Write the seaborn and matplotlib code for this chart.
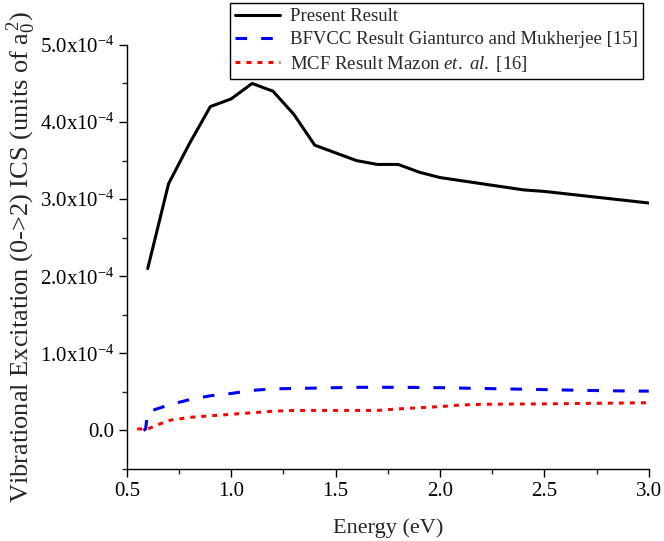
import matplotlib
matplotlib.use("Agg")
import matplotlib.pyplot as plt
import seaborn as sns
import pandas as pd
from matplotlib.ticker import FuncFormatter, MultipleLocator

# Present result
energy_present = [0.6, 0.7, 0.8, 0.9, 1.0, 1.1, 1.2, 1.3, 1.4, 1.5, 1.6, 1.7, 1.8,
                  1.9, 2.0, 2.2, 2.4, 2.5, 2.7, 3.0]
ics_present = [2.10, 3.20, 3.72, 4.20, 4.30, 4.50, 4.40, 4.10, 3.70, 3.60, 3.50, 3.45, 3.45,
               3.35, 3.28, 3.20, 3.12, 3.10, 3.04, 2.95]

# BFVCC (Gianturco and Mukherjee)
energy_bfvcc = [0.58, 0.59, 0.6, 0.7, 0.8, 0.9, 1.0, 1.1, 1.2, 1.4, 1.6, 1.8, 2.0,
                2.2, 2.4, 2.6, 2.8, 3.0]
ics_bfvcc = [0.00, 0.02, 0.24, 0.33, 0.40, 0.45, 0.48, 0.52, 0.54, 0.55, 0.56, 0.56, 0.555,
             0.545, 0.535, 0.525, 0.515, 0.51]

# MCF (Mazon et. al.)
energy_mcf = [0.55, 0.6, 0.7, 0.8, 0.9, 1.0, 1.1, 1.2, 1.3, 1.5, 1.7, 1.8, 2.0,
              2.1, 2.2, 2.5, 3.0]
ics_mcf = [0.02, 0.02, 0.13, 0.17, 0.19, 0.21, 0.23, 0.25, 0.26, 0.26, 0.26, 0.28, 0.31,
           0.33, 0.34, 0.345, 0.36]

scale = 1e-4

sns.set_style("ticks")
plt.rcParams['font.family'] = ['Liberation Serif', 'DejaVu Serif']
plt.rcParams['mathtext.fontset'] = 'custom'
plt.rcParams['mathtext.rm'] = 'Liberation Serif'
plt.rcParams['mathtext.it'] = 'Liberation Serif:italic'
plt.rcParams['mathtext.bf'] = 'Liberation Serif:bold'

fig = plt.figure(figsize=(6.64, 5.41), dpi=100)
ax = fig.add_axes([0.191, 0.133, 0.786, 0.784])

df_p = pd.DataFrame({"E": energy_present, "ics": [v * scale for v in ics_present]})
df_b = pd.DataFrame({"E": energy_bfvcc, "ics": [v * scale for v in ics_bfvcc]})
df_m = pd.DataFrame({"E": energy_mcf, "ics": [v * scale for v in ics_mcf]})

sns.lineplot(data=df_p, x="E", y="ics", ax=ax, color="black", linewidth=2.2,
             estimator=None, label="Present Result")
sns.lineplot(data=df_b, x="E", y="ics", ax=ax, color="#0000ff", linewidth=2.2,
             estimator=None, label="BFVCC Result Gianturco and Mukherjee [15]")
sns.lineplot(data=df_m, x="E", y="ics", ax=ax, color="#ff0000", linewidth=2.2,
             estimator=None, label=r"MCF Result Mazon $\mathit{et.\ al.}$ [16]")
lines = ax.get_lines()
lines[1].set_dashes([3.8, 4.6])
lines[2].set_dashes([1.6, 2.0])

ax.set_xlim(0.5, 3.0)
ax.set_ylim(-0.5e-4, 5.0e-4)
ax.xaxis.set_major_locator(MultipleLocator(0.5))
ax.xaxis.set_minor_locator(MultipleLocator(0.25))
ax.yaxis.set_major_locator(MultipleLocator(1e-4))
ax.yaxis.set_minor_locator(MultipleLocator(0.5e-4))


def fmt(v, pos):
    if abs(v) < 1e-12:
        return "0.0"
    return r"%.1fx10$^{-4}$" % (v / 1e-4)


ax.yaxis.set_major_formatter(FuncFormatter(fmt))
ax.xaxis.set_major_formatter(FuncFormatter(lambda v, p: "%.1f" % v))

sns.despine(ax=ax)
for s in ["left", "bottom"]:
    ax.spines[s].set_linewidth(1.0)
    ax.spines[s].set_color("black")
ax.tick_params(axis="both", which="major", direction="out", length=6, width=1,
               labelsize=15, colors="black", pad=3)
ax.tick_params(axis="both", which="minor", direction="out", length=3.5, width=1)

ax.set_xlabel("Energy (eV)", fontsize=16, labelpad=13)
ax.set_ylabel(r"Vibrational Excitation (0->2) ICS (units of a$_0^{\,2}$)", fontsize=19,
              labelpad=1)

leg = ax.legend(loc="upper left", bbox_to_anchor=(0.346, 0.995),
                bbox_transform=fig.transFigure, fontsize=13.5, frameon=True,
                fancybox=False, handlelength=2.4, borderpad=0.3, labelspacing=0.3,
                handletextpad=0.5, borderaxespad=0)
leg.get_frame().set_edgecolor("black")
leg.get_frame().set_linewidth(1.0)
leg.get_frame().set_alpha(1)

fig.savefig("out.png", dpi=100)
